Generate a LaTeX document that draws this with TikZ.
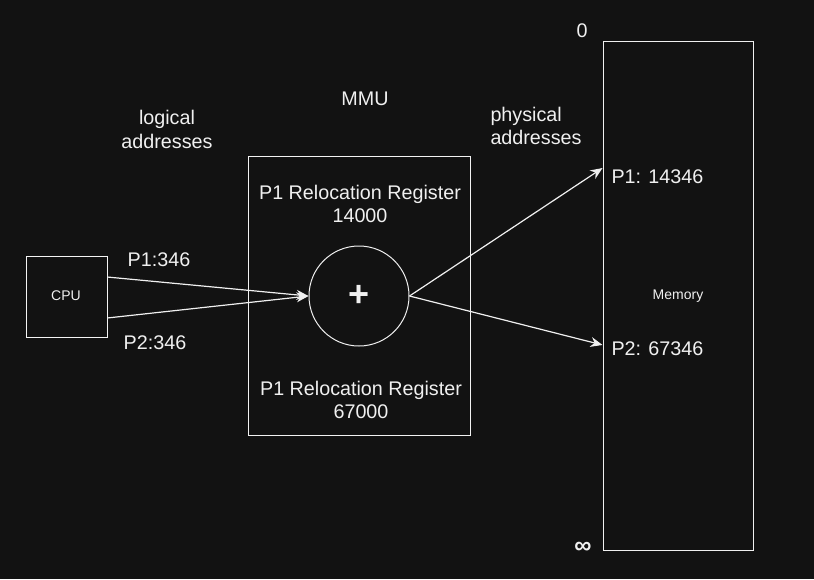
\documentclass[tikz,border=0pt]{standalone}
\usepackage{fontspec}
\setmainfont{Liberation Sans}
\usetikzlibrary{arrows.meta}
\definecolor{bg}{HTML}{121212}
\definecolor{fg}{HTML}{F0F0F0}

\tikzset{
  big/.style={text=fg, font=\fontsize{14.8}{17.5}\selectfont, align=center, inner sep=0pt},
  small/.style={text=fg, font=\fontsize{10.5}{12}\selectfont, inner sep=0pt},
  box/.style={draw=fg, rectangle, inner sep=0pt},
  wire/.style={draw=fg, ->, line width=0.9pt}
}

\begin{document}
\begin{tikzpicture}[x=0.75pt, y=-0.75pt, line width=0.75pt, >={Stealth[length=9pt, width=7.5pt]}]
\fill[bg] (0,0) rectangle (814,579);

\node[box, draw=fg!75, minimum width=60.75pt, minimum height=60.75pt] (cpu) at (66.5,296.5){};
\node[small] at (66,296){CPU};
\node[box, draw=fg!85, minimum width=166.5pt, minimum height=209.25pt] (mmu) at (359,295.5){};
\node[draw=fg, circle, minimum size=75pt, inner sep=0pt] (add) at (359,296){};
\node[text=fg, font=\fontsize{27}{27}\selectfont\bfseries, inner sep=0pt] at (359,296){+};
\node[box, minimum width=112.5pt, minimum height=381.75pt] (mem) at (678,295.5){};
\node[small] at (678,296){Memory};

\node[big] (reg1) at (360,204){P1 Relocation Register\\14000};
\node[big] (reg2) at (361,400){P1 Relocation Register\\67000};
\node[big] (mmulbl) at (365,99){MMU};
\node[big] (log) at (167,129.5){logical\\addresses};
\node[big, align=left, anchor=west] (phys) at (490,126){physical\\addresses};
\node[big] (zero) at (582,31){0};
\node[big, font=\fontsize{18}{18}\selectfont\bfseries] (inf) at (583,548){∞};
\node[big] (a1) at (159,260){P1:346};
\node[big] (a2) at (155,343){P2:346};
\node[big, anchor=west] (m1) at (611,177){P1: 14346};
\node[big, anchor=west] (m2) at (611,349){P2: 67346};

\draw[wire] ([yshift=14.6pt]cpu.east) -- (add.west);
\draw[wire] ([yshift=-16.1pt]cpu.east) -- (add.west);
\draw[wire] (add.east) -- ([yshift=95.6pt]mem.west);
\draw[wire] (add.east) -- ([yshift=-37.1pt]mem.west);
\end{tikzpicture}
\end{document}
